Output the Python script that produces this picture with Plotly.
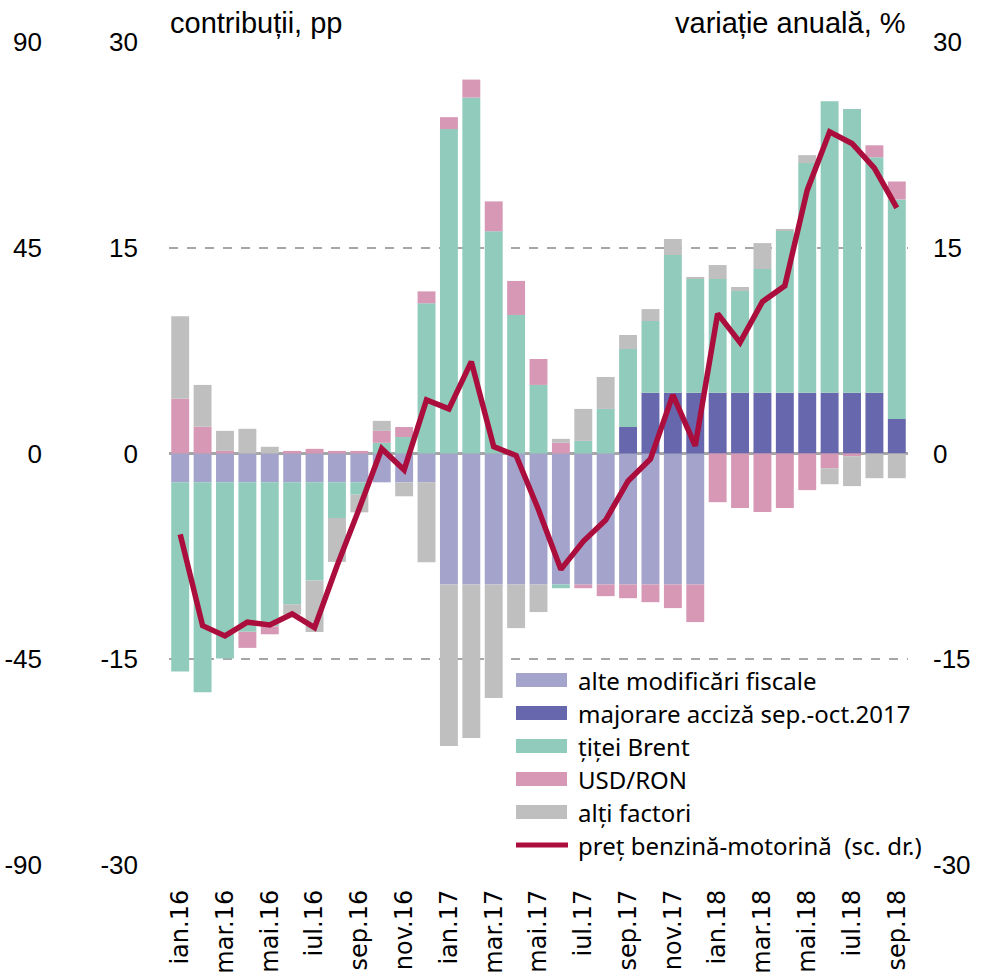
"""
Contribuții la variația anuală a prețului benzină-motorină
"""
import plotly.graph_objects as go

# Luni (categorii)
luni = [
    'ian.16', 'feb.16', 'mar.16', 'apr.16', 'mai.16', 'iun.16',
    'iul.16', 'aug.16', 'sep.16', 'oct.16', 'nov.16', 'dec.16',
    'ian.17', 'feb.17', 'mar.17', 'apr.17', 'mai.17', 'iun.17',
    'iul.17', 'aug.17', 'sep.17', 'oct.17', 'nov.17', 'dec.17',
    'ian.18', 'feb.18', 'mar.18', 'apr.18', 'mai.18', 'iun.18',
    'iul.18', 'aug.18', 'sep.18',
]

# Contribuții, pp
alte_fiscale = [
    -2.1, -2.1, -2.1, -2.1, -2.1, -2.1, -2.1, -2.1, -2.1, -2.1, -2.1, -2.1,
    -9.55, -9.55, -9.55, -9.55, -9.55, -9.55, -9.55, -9.55, -9.55, -9.55, -9.55, -9.55,
    0, 0, 0, 0, 0, 0, 0, 0, 0,
]
acciza = [
    0, 0, 0, 0, 0, 0, 0, 0, 0, 0, 0, 0,
    0, 0, 0, 0, 0, 0, 0, 0, 1.94, 4.42, 4.42, 4.42,
    4.42, 4.42, 4.42, 4.42, 4.42, 4.42, 4.42, 4.42, 2.52,
]
brent = [
    -13.8, -15.3, -12.85, -10.9, -10.5, -8.9, -7.15, -2.6, -0.9, 0.78, 1.2, 10.95,
    23.65, 25.95, 16.2, 10.1, 5.0, -0.27, 0.92, 3.25, 5.68, 5.24, 10.05, 8.3,
    8.3, 7.43, 9.03, 11.8, 16.75, 21.26, 20.7, 17.18, 16.0,
]
usd_ron = [
    4.0, 1.95, 0.19, -1.17, -0.58, 0.19, 0.34, 0.19, 0.19, 0.87, 0.73, 0.87,
    0.87, 1.31, 2.18, 2.48, 1.89, 0.78, -0.27, -0.85, -1.0, -1.29, -1.72, -2.74,
    -3.55, -3.98, -4.27, -3.98, -2.67, -1.07, -0.2, 0.87, 1.31,
]
alti_factori = [
    6.0, 3.05, 1.46, 1.8, 0.49, -0.75, -3.76, -3.2, -1.29, 0.73, -1.02, -5.83,
    -11.77, -11.19, -8.28, -3.18, -2.01, 0.29, 2.33, 2.33, 1.02, 0.87, 1.17, 0.15,
    1.02, 0.29, 1.89, 0.15, 0.58, -1.17, -2.18, -1.8, -1.8,
]

# Variație anuală, % (sc. dr.)
pret = [
    -5.9, -12.55, -13.3, -12.3, -12.5, -11.7, -12.7, -8.2, -4.0, 0.35, -1.2, 3.9,
    3.25, 6.7, 0.5, -0.15, -4.1, -8.45, -6.4, -4.85, -2.0, -0.4, 4.27, 0.56,
    10.2, 8.1, 11.07, 12.23, 19.2, 23.45, 22.6, 20.8, 17.9,
]

ticks_stanga = [-30, -15, 0, 15, 30]
etichete_stanga = ['-30', '-15', '0', '15', '30']
ticks_exterior = [-90, -45, 0, 45, 90]
etichete_exterior = ['-90', '-45', '0', '45', '90']

serii = [
    ('alte modificări fiscale', alte_fiscale, '#a3a3cc'),
    ('majorare acciză sep.-oct.2017', acciza, '#6767ad'),
    ('țiței Brent', brent, '#90cbbb'),
    ('USD/RON', usd_ron, '#d698b5'),
    ('alți factori', alti_factori, '#bfbfbf'),
]
culoare_linie = '#ab0d3d'

W, H = 982, 978
TOP, BOTTOM = 42, 865
FONT_NR = 'Liberation Sans Narrow, Liberation Sans, sans-serif'
FONT_TXT = 'Noto Sans, Open Sans, sans-serif'

fig = go.Figure()

for nume, valori, culoare in serii:
    fig.add_trace(go.Bar(
        x=luni, y=valori, name=nume,
        marker=dict(color=culoare, line=dict(width=0)),
        showlegend=False,
    ))

fig.add_trace(go.Scatter(
    x=luni, y=pret, name='preț benzină-motorină (sc. dr.)',
    mode='lines', line=dict(color=culoare_linie, width=5.5),
    yaxis='y2', showlegend=False,
))

# ax invizibil pentru scala exterioară din stânga
fig.add_trace(go.Scatter(
    x=[luni[0]], y=[0], yaxis='y3', mode='lines',
    hoverinfo='skip', showlegend=False,
))

fig.update_layout(
    width=W, height=H,
    margin=dict(l=0, r=0, t=TOP, b=H - BOTTOM),
    plot_bgcolor='white', paper_bgcolor='white',
    barmode='relative', bargap=0.2,
    xaxis=dict(
        domain=[169 / W, 908 / W], type='category',
        range=[-0.5, len(luni) - 0.5],
        tickmode='array', tickvals=luni[::2], tickangle=-90,
        tickfont=dict(family='DejaVu Sans', size=24, color='#000'),
        ticks='', ticklabelstandoff=19, showgrid=False, showline=False,
        zeroline=False, automargin=False,
    ),
    yaxis=dict(
        range=[-30, 30], tickvals=ticks_stanga, ticktext=etichete_stanga,
        showgrid=True, gridcolor='#a6a6a6', griddash='dash', gridwidth=1.5,
        zeroline=True, zerolinecolor='#a6a6a6', zerolinewidth=2.5,
        showline=False, ticks='', automargin=False, ticklabelstandoff=30,
        tickfont=dict(family=FONT_NR, size=26, color='#000'),
    ),
    yaxis2=dict(
        range=[-30, 30], tickvals=ticks_stanga, ticktext=etichete_stanga,
        overlaying='y', side='right',
        showgrid=False, zeroline=False, showline=False, ticks='',
        ticklabelstandoff=24, automargin=False,
        tickfont=dict(family=FONT_NR, size=26, color='#000'),
    ),
    yaxis3=dict(
        range=[-90, 90], tickvals=ticks_exterior, ticktext=etichete_exterior,
        overlaying='y', side='left', anchor='free', position=42 / W,
        showgrid=False, zeroline=False, showline=False, ticks='',
        automargin=False,
        tickfont=dict(family=FONT_NR, size=26, color='#000'),
    ),
)

fig.add_annotation(
    text='contribuții, pp', xref='paper', yref='paper',
    x=168 / W, y=1, xanchor='left', yanchor='bottom', yshift=1,
    showarrow=False, font=dict(family=FONT_NR, size=29, color='#000'),
)
fig.add_annotation(
    text='variație anuală, %', xref='paper', yref='paper',
    x=908 / W, y=1, xanchor='right', yanchor='bottom', yshift=1,
    showarrow=False, font=dict(family=FONT_NR, size=29, color='#000'),
)

# Legenda desenată manual
def py(p):
    return (BOTTOM - p) / (BOTTOM - TOP)

randuri = [680, 713, 746, 779, 812, 845]
for (nume, _, culoare), yc in zip(serii, randuri):
    fig.add_shape(
        type='rect', xref='paper', yref='paper',
        x0=516 / W, x1=567 / W, y0=py(yc + 7), y1=py(yc - 7),
        fillcolor=culoare, line=dict(width=0),
    )
    fig.add_annotation(
        text=nume, xref='paper', yref='paper', x=576 / W, y=py(yc),
        xanchor='left', yanchor='middle', showarrow=False,
        font=dict(family=FONT_TXT, size=24, color='#000'),
    )
fig.add_shape(
    type='line', xref='paper', yref='paper',
    x0=516 / W, x1=568 / W, y0=py(randuri[-1]), y1=py(randuri[-1]),
    line=dict(color=culoare_linie, width=5),
)
fig.add_annotation(
    text='preț benzină-motorină  (sc. dr.)', xref='paper', yref='paper',
    x=576 / W, y=py(randuri[-1]), xanchor='left', yanchor='middle',
    showarrow=False, font=dict(family=FONT_TXT, size=24, color='#000'),
)

fig.write_html(
    'out.html',
    config={'displayModeBar': False},
    post_script="document.body.style.margin='0';",
)
